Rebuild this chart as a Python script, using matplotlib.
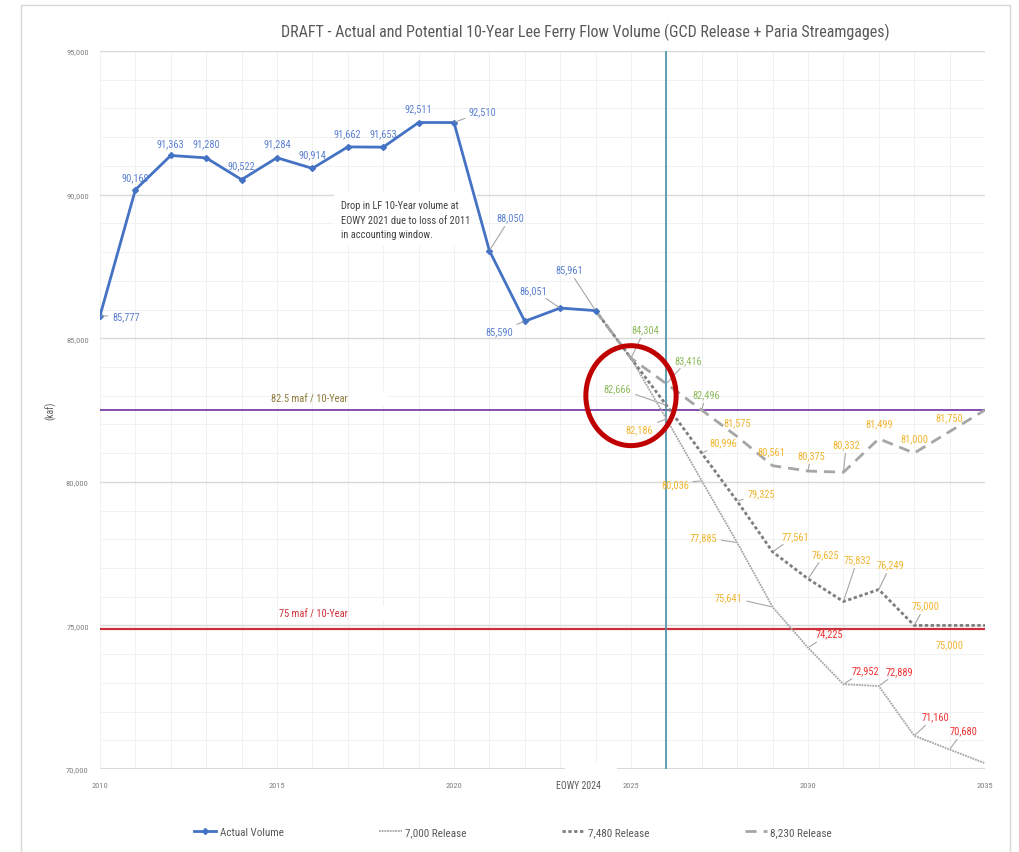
import matplotlib
matplotlib.use("Agg")
import matplotlib.pyplot as plt
from matplotlib import font_manager
from matplotlib.patches import Rectangle, Ellipse
from matplotlib.lines import Line2D
from matplotlib.ticker import MultipleLocator, FuncFormatter

installed = {f.name for f in font_manager.fontManager.ttflist}
narrow = [n for n in ['Liberation Sans Narrow', 'DejaVu Sans Condensed', 'Roboto Condensed',
                      'Open Sans Condensed', 'Noto Sans Condensed'] if n in installed]
plt.rcParams['font.family'] = narrow[:1] + ['Liberation Sans', 'DejaVu Sans']

# ---- data (kaf) ----
years_actual = list(range(2010, 2025))
actual = [85777, 90169, 91363, 91280, 90522, 91284, 90914, 91662, 91653,
          92511, 92510, 88050, 85590, 86051, 85961]

years_proj = list(range(2024, 2036))
rel_7000 = [85961, 84304, 82186, 80036, 77885, 75641, 74225, 72952, 72889, 71160, 70680, 70200]
rel_7480 = [85961, 84304, 82666, 80996, 79325, 77561, 76625, 75832, 76249, 75000, 75000, 75000]
rel_8230 = [85961, 84304, 83416, 82496, 81575, 80561, 80375, 80332, 81499, 81000, 81750, 82500]

target_hi = 82500
target_lo = 74880
eowy_year = 2026

# label placement: year -> (dx px, dy px downwards, ha, leader)
actual_lbl = {
    2010: (12, 0, 'left', True), 2011: (0, -13, 'center', False),
    2012: (0, -12, 'center', False), 2013: (0, -15, 'center', False),
    2014: (0, -14, 'center', False), 2015: (0, -15, 'center', False),
    2016: (0, -14, 'center', False), 2017: (0, -14, 'center', False),
    2018: (0, -14, 'center', False), 2019: (0, -14, 'center', False),
    2020: (15, -11, 'left', True), 2021: (7, -33, 'left', True),
    2022: (-12, 10, 'right', True), 2023: (-13, -18, 'right', True),
    2024: (-13, -41, 'right', True),
}
lbl_8230 = {
    2025: (14, -29, 'center', True), 2026: (8, -24, 'left', True),
    2027: (4, -16, 'center', True), 2028: (0, -14, 'center', False),
    2029: (-1, -15, 'center', False), 2030: (3, -16, 'center', True),
    2031: (3, -28, 'center', True), 2032: (0, -16, 'center', False),
    2033: (0, -15, 'center', False), 2034: (0, -14, 'center', False),
}
lbl_7480 = {
    2026: (-35, -17, 'right', True), 2027: (8, -11, 'left', True),
    2028: (10, -8, 'left', True), 2029: (9, -16, 'left', True),
    2030: (17, -25, 'center', True), 2031: (14, -42, 'center', True),
    2032: (12, -25, 'center', True), 2033: (11, -20, 'center', True),
    2034: (0, 19, 'center', False),
}
lbl_7000 = {
    2026: (-13, 10, 'right', True), 2027: (-13, 3, 'right', True),
    2028: (-20, -5, 'right', True), 2029: (-30, -10, 'right', True),
    2030: (8, -14, 'left', True), 2031: (8, -14, 'left', True),
    2032: (7, -15, 'left', True), 2033: (7, -19, 'left', True),
    2034: (14, -19, 'center', True),
}


def proj_color(v):
    maf = round(v / 100.0) / 10.0
    if maf >= 82.5:
        return '#8DBA5C'
    if maf >= 75.0:
        return '#F2B530'
    return '#F23030'


def put_labels(ax, xs, ys, placement, colfunc):
    for x, y in zip(xs, ys):
        if x not in placement:
            continue
        dx, dy, ha, leader = placement[x]
        ap = None
        if leader:
            ap = dict(arrowstyle='-', color='#A6A6A6', lw=0.8, shrinkA=1, shrinkB=1)
        ax.annotate(f"{y:,}", xy=(x, y), xytext=(dx, -dy), textcoords='offset pixels',
                    ha=ha, va='center', fontsize=7.5, color=colfunc(y),
                    arrowprops=ap, zorder=8)


fig = plt.figure(figsize=(10.2, 8.53), dpi=100)
ax = fig.add_axes([0.098, 0.0973, 0.8677, 0.8417])

ax.set_xlim(2010, 2035)
ax.set_ylim(70000, 95000)
ax.xaxis.set_major_locator(MultipleLocator(5))
ax.xaxis.set_minor_locator(MultipleLocator(1))
ax.yaxis.set_major_locator(MultipleLocator(5000))
ax.yaxis.set_minor_locator(MultipleLocator(1000))
ax.yaxis.set_major_formatter(FuncFormatter(lambda v, p: f"{int(v):,}"))
ax.grid(which='major', axis='y', color='#D9D9D9', lw=1.0)
ax.grid(which='minor', axis='both', color='#EFEFEF', lw=0.6)
ax.grid(which='major', axis='x', color='#EFEFEF', lw=0.6)
ax.set_axisbelow(True)
for s in ax.spines.values():
    s.set_visible(False)
ax.axhline(70000, color='#D9D9D9', lw=1.5, zorder=1)
ax.tick_params(which='both', length=0, labelsize=6, labelcolor='#7F7F7F')
ax.tick_params(axis='x', pad=9)
ax.tick_params(axis='y', pad=8)
ax.set_ylabel('(kaf)', fontsize=7, color='#595959', labelpad=7)

# reference lines
ax.axhline(target_hi, color='#7030A0', lw=1.2, zorder=2)
ax.axhline(target_lo, color='#C8303A', lw=1.6, zorder=2)
ax.axvline(eowy_year, color='#4A8FA6', lw=1.2, zorder=2)

ax.text(2017.0, target_hi + 400, '82.5 maf / 10-Year', fontsize=7.5, color='#8C7A3A',
        ha='right', va='center', zorder=6)
ax.add_patch(Rectangle((2017.05, target_hi + 150), 1.1, 500, fc='white', ec='none', zorder=5))
ax.text(2017.0, target_lo + 550, '75 maf / 10-Year', fontsize=7.5, color='#D0303A',
        ha='right', va='center', zorder=6)
ax.add_patch(Rectangle((2017.05, target_lo + 300), 1.1, 500, fc='white', ec='none', zorder=5))

ax.text(2016.8, 89800,
        'Drop in LF 10-Year volume at\nEOWY 2021 due to loss of 2011\nin accounting window.',
        fontsize=7.5, color='#404040', ha='left', va='top', linespacing=1.55,
        bbox=dict(fc='white', ec='none', pad=5), zorder=1.5)

# projections
ax.plot(years_proj, rel_7000, color='#A6A6A6', lw=1.3, ls=(0, (1, 0.5)), zorder=3)
ax.plot(years_proj, rel_7480, color='#7F7F7F', lw=2.0, ls=(0, (1.2, 0.9)), zorder=3)
ax.plot(years_proj, rel_8230, color='#A6A6A6', lw=2.0, ls=(0, (4, 2.5)), zorder=3)

# actual
ax.plot(years_actual, actual, color='#4472C4', lw=2.0, marker='D', ms=3, zorder=4)

put_labels(ax, years_actual, actual, actual_lbl, lambda v: '#5B80D0')
put_labels(ax, years_proj, rel_8230, lbl_8230, proj_color)
put_labels(ax, years_proj, rel_7480, lbl_7480, proj_color)
put_labels(ax, years_proj, rel_7000, lbl_7000, proj_color)

# red circle
ax.add_patch(Ellipse((2025.0, 83000), 2.55, 3480, fill=False, ec='#C00000', lw=3.6,
                     zorder=9, clip_on=False))

# EOWY 2024 tag
ax.add_patch(Rectangle((2023.15, 69300), 1.45, 900, fc='white', ec='none',
                       zorder=6, clip_on=False))
ax.text(2023.5, 69450, 'EOWY 2024', fontsize=7, color='#595959', ha='center',
        va='center', zorder=7, clip_on=False)

fig.suptitle('DRAFT - Actual and Potential 10-Year Lee Ferry Flow Volume '
             '(GCD Release + Paria Streamgages)', x=0.5735, y=0.972, fontsize=11.5,
             color='#595959')

handles = [
    Line2D([], [], color='#4472C4', lw=2, marker='D', ms=3),
    Line2D([], [], color='#A6A6A6', lw=1.3, ls=(0, (1, 0.5))),
    Line2D([], [], color='#7F7F7F', lw=2, ls=(0, (1.2, 0.9))),
    Line2D([], [], color='#A6A6A6', lw=2, ls=(0, (4, 2.5))),
]
leg = fig.legend(handles, ['Actual Volume', '7,000 Release', '7,480 Release', '8,230 Release'],
                 loc='center', bbox_to_anchor=(0.503, 0.023), ncol=4, frameon=False,
                 fontsize=8, handlelength=2.0, handletextpad=0.3, columnspacing=8.6)
for t in leg.get_texts():
    t.set_color('#595959')

fig.add_artist(Rectangle((21 / 1020, -0.02), 989 / 1020, 1.013, transform=fig.transFigure,
                         fill=False, ec='#D9D9D9', lw=1))

fig.savefig('out.png', dpi=100, facecolor='white')
